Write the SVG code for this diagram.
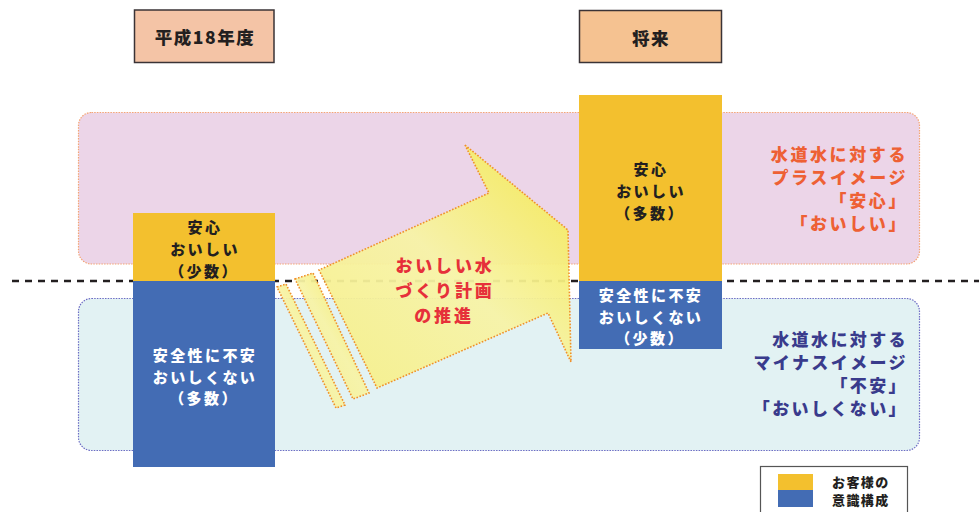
<svg xmlns="http://www.w3.org/2000/svg" width="979" height="512" viewBox="0 0 979 512">
<defs>
<linearGradient id="ag" x1="0" y1="1" x2="1" y2="0">
<stop offset="0" stop-color="#f6ef86"/>
<stop offset="0.5" stop-color="#f7f3a6"/>
<stop offset="1" stop-color="#f4e94a"/>
</linearGradient>
<style>
text{font-family:"Noto Sans CJK JP","Noto Sans CJK SC",sans-serif;font-weight:900;text-anchor:middle;dominant-baseline:central}
.hdr{font-size:17.5px;fill:#231f20;letter-spacing:1.5px}
.dk{font-size:15px;fill:#231f20;letter-spacing:2.4px}
.wh{font-size:15px;fill:#ffffff;letter-spacing:2.4px}
.or{font-size:17px;fill:#ee6034;letter-spacing:2.6px;text-anchor:end}
.bl{font-size:17px;fill:#393b8c;letter-spacing:2.4px;text-anchor:end}
.rd{font-size:17px;fill:#e6303a;letter-spacing:2.8px}
.lg{font-size:13px;fill:#231f20;letter-spacing:1.4px;text-anchor:start}
.arrow{fill:url(#ag);stroke:#f0902a;stroke-width:1.6;stroke-dasharray:1.6 1.6;fill-opacity:0.94}
.yel{fill:#f3c02e}
.blu{fill:#436cb4}
</style>
</defs>
<rect width="979" height="512" fill="#ffffff"/>
<g id="band-plus">
<rect x="78.5" y="112.5" width="841" height="151.5" rx="13" fill="#ecd5e8" stroke="#f4a474" stroke-width="1.2" stroke-dasharray="1.5 1.2"/>
</g>
<g id="band-minus">
<rect x="78.5" y="298.5" width="841" height="152" rx="13" fill="#e2f2f3" stroke="#6c6cc4" stroke-width="1.2" stroke-dasharray="1.5 1.2"/>
</g>
<g id="divider">
<line x1="12" y1="281" x2="979" y2="281" stroke="#231f20" stroke-width="2.3" stroke-dasharray="7 6"/>
</g>
<g id="header-h18">
<rect x="134.5" y="10" width="139.5" height="52.5" fill="#f4c4a6" stroke="#3a3336" stroke-width="1.5"/>
<text class="hdr" x="205" y="36">平成18年度</text>
</g>
<g id="header-future">
<rect x="579.5" y="10.5" width="142" height="52" fill="#f5c291" stroke="#3a3336" stroke-width="1.5"/>
<text class="hdr" x="651" y="37">将来</text>
</g>
<g id="col-h18">
<rect class="yel" x="133" y="213" width="142" height="68"/>
<rect class="blu" x="133" y="281" width="142" height="186"/>
<text class="dk" x="205" y="226">安心</text>
<text class="dk" x="205" y="248">おいしい</text>
<text class="dk" x="204" y="270">（少数）</text>
<text class="wh" x="205" y="354">安全性に不安</text>
<text class="wh" x="205" y="376">おいしくない</text>
<text class="wh" x="204" y="397">（多数）</text>
</g>
<g id="col-future">
<rect class="yel" x="579" y="95" width="143" height="186"/>
<rect class="blu" x="579" y="281" width="143" height="68"/>
<text class="dk" x="651" y="168">安心</text>
<text class="dk" x="651" y="190">おいしい</text>
<text class="dk" x="650" y="212">（多数）</text>
<text class="wh" x="651" y="294">安全性に不安</text>
<text class="wh" x="651" y="316">おいしくない</text>
<text class="wh" x="650" y="337">（少数）</text>
</g>
<g id="arrow">
<polygon class="arrow" points="277,287 286,284 345,405 336,408"/>
<polygon class="arrow" points="295,279 313,273 369,393 353,399"/>
<polygon class="arrow" points="465,145 568,230 571,362 548,313 377,388 319,270 489,193"/>
<text class="rd" x="445" y="264">おいしい水</text>
<text class="rd" x="445" y="289">づくり計画</text>
<text class="rd" x="444" y="314">の推進</text>
</g>
<g id="label-plus">
<text class="or" x="908" y="153">水道水に対する</text>
<text class="or" x="908" y="176">プラスイメージ</text>
<text class="or" x="908" y="199">「安心」</text>
<text class="or" x="908" y="222">「おいしい」</text>
</g>
<g id="label-minus">
<text class="bl" x="908" y="338">水道水に対する</text>
<text class="bl" x="908" y="361">マイナスイメージ</text>
<text class="bl" x="908" y="384">「不安」</text>
<text class="bl" x="908" y="407">「おいしくない」</text>
</g>
<g id="legend">
<rect x="760.5" y="466.5" width="147" height="50" fill="#ffffff" stroke="#555555" stroke-width="1.2"/>
<rect class="yel" x="778" y="474" width="35" height="16"/>
<rect class="blu" x="778" y="490" width="35" height="17"/>
<text class="lg" x="832" y="481">お客様の</text>
<text class="lg" x="832" y="499">意識構成</text>
</g>
</svg>
